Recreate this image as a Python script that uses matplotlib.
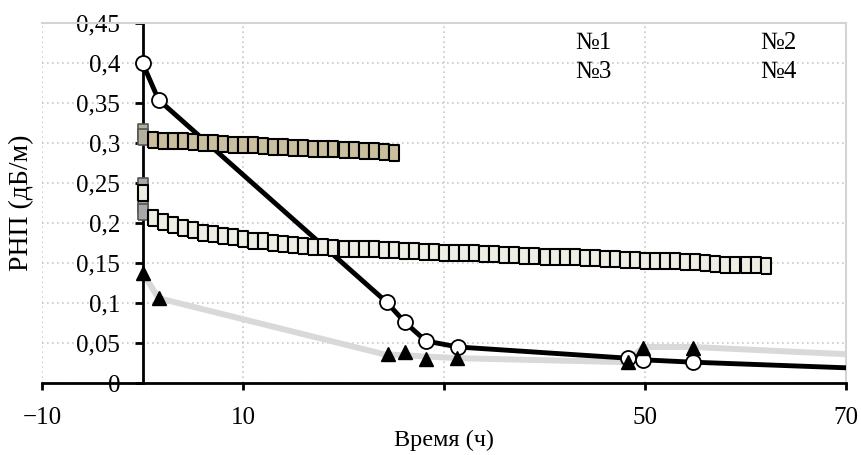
import numpy as np
from matplotlib import pyplot as plt
from matplotlib.ticker import FuncFormatter

plt.rcParams['font.family'] = ['Liberation Serif', 'DejaVu Serif']

# Sample 1: black line with white circles
circ_x = [0, 1.6, 24.3, 26.1, 28.2, 31.4, 48.3, 49.8, 54.8, 70]
circ_y = [0.400, 0.354, 0.101, 0.076, 0.0525, 0.045, 0.031, 0.029, 0.026, 0.019]

# Sample 2: grey line with black triangles
grey_x = [0, 1.6, 24.0, 31.4, 48.3, 49.8, 54.8, 70]
grey_y = [0.138, 0.106, 0.036, 0.031, 0.026, 0.045, 0.045, 0.036]
tri_x = [0, 1.6, 24.4, 26.1, 28.2, 31.3, 48.3, 49.8, 54.8]
tri_y = [0.138, 0.106, 0.036, 0.039, 0.030, 0.031, 0.026, 0.044, 0.044]

# Sample 3: tan squares
tan_x = [1, 2, 3, 4, 5, 6, 7, 8, 9, 10, 11, 12, 13, 14, 15, 16, 17, 18, 19, 20,
         21, 22, 23, 24, 25]
tan_y = [0.304, 0.303, 0.303, 0.302, 0.301, 0.300, 0.300, 0.299, 0.298, 0.297,
         0.297, 0.296, 0.295, 0.295, 0.294, 0.294, 0.293, 0.293, 0.292, 0.291,
         0.291, 0.290, 0.290, 0.289, 0.288]
tan_start_y = [0.314, 0.308]

# Sample 4: light squares
light_x = [1, 2, 3, 4, 5, 6, 7, 8, 9, 10, 11, 12, 13, 14, 15, 16, 17, 18, 19, 20,
           21, 22, 23, 24, 25, 26, 27, 28, 29, 30, 31, 32, 33, 34, 35, 36, 37, 38,
           39, 40, 41, 42, 43, 44, 45, 46, 47, 48, 49, 50, 51, 52, 53, 54, 55, 56,
           57, 58, 59, 60, 61, 62]
light_y = [0.206, 0.201, 0.197, 0.194, 0.191, 0.188, 0.186, 0.184, 0.182, 0.180,
           0.178, 0.177, 0.175, 0.174, 0.172, 0.171, 0.170, 0.170, 0.169, 0.168,
           0.168, 0.167, 0.167, 0.166, 0.166, 0.165, 0.165, 0.164, 0.164, 0.163,
           0.163, 0.162, 0.162, 0.161, 0.161, 0.160, 0.160, 0.159, 0.159, 0.158,
           0.158, 0.157, 0.157, 0.156, 0.156, 0.155, 0.155, 0.154, 0.154, 0.153,
           0.153, 0.152, 0.152, 0.151, 0.151, 0.150, 0.149, 0.148, 0.148, 0.147,
           0.147, 0.146]
light_start_y = [0.246, 0.222, 0.214, 0.238]

x_ticks = [-10, 10, 30, 50, 70]
# "30" is covered by the axis title in the original
x_tick_labels = ["\u221210", "10", "", "50", "70"]
y_ticks = [0, 0.05, 0.1, 0.15, 0.2, 0.25, 0.3, 0.35, 0.4, 0.45]
labels = ["№1", "№2", "№3", "№4"]

# narrow box marker for the squares
rect = [(-0.31, -0.5), (0.31, -0.5), (0.31, 0.5), (-0.31, 0.5), (-0.31, -0.5)]

fig = plt.figure(figsize=(8.61, 4.55), dpi=100)
ax = fig.add_axes([42/861, 1-383/455, 804/861, 360/455])

ax.plot(grey_x, grey_y, color='#d9d9d9', lw=4.3, zorder=2, solid_capstyle='butt')
ax.plot(circ_x, circ_y, color='black', lw=3.5, zorder=3,
        marker='o', markersize=10.8, markerfacecolor='white',
        markeredgecolor='black', markeredgewidth=1.3,
        markevery=list(range(len(circ_x)-1)))

# the stacked points at t=0
ax.plot([0]*len(tan_start_y), tan_start_y, ls='none', marker=rect, markersize=11,
        markerfacecolor='#b5b09e', markeredgecolor='#555555', markeredgewidth=1.2, zorder=4)
ax.plot([0]*len(light_start_y), light_start_y, ls='none', marker=rect, markersize=11,
        markerfacecolor='#a8a8a8', markeredgecolor='#555555', markeredgewidth=1.2, zorder=4)
ax.plot([0], [light_start_y[-1]], ls='none', marker=rect, markersize=11,
        markerfacecolor='#efeee4', markeredgecolor='black', markeredgewidth=1.5, zorder=4)

ax.plot(tan_x, tan_y, ls='none', marker=rect, markersize=11,
        markerfacecolor='#c9bf9e', markeredgecolor='black', markeredgewidth=1.5, zorder=4)
ax.plot(light_x, light_y, ls='none', marker=rect, markersize=11,
        markerfacecolor='#efeee4', markeredgecolor='black', markeredgewidth=1.5, zorder=4)

ax.plot(tri_x, tri_y, ls='none', marker='^', markersize=10,
        markerfacecolor='black', markeredgecolor='black', zorder=5)

ax.set_xlim(-10, 70)
ax.set_ylim(0, 0.45)
ax.set_xticks(x_ticks)
ax.set_xticklabels(x_tick_labels)
ax.set_yticks(y_ticks)
ax.yaxis.set_major_formatter(FuncFormatter(lambda v, p: ("%g" % round(v, 2)).replace('.', ',')))
ax.grid(True, linestyle=(0, (1, 2)), color='#c8c8c8', lw=1.2, zorder=0)
ax.set_axisbelow(True)

ax.spines['left'].set_position(('data', 0))
ax.spines['left'].set_linewidth(2)
ax.spines['bottom'].set_linewidth(2)
ax.spines['top'].set_color('#d4d4d4')
ax.spines['right'].set_color('#d4d4d4')
ax.spines['top'].set_linewidth(1.5)
ax.spines['right'].set_linewidth(1.5)
ax.tick_params(axis='y', direction='out', length=6, width=2, pad=10, labelsize=18)
ax.tick_params(axis='x', direction='out', length=5, width=2, pad=12, labelsize=18)

ax.text(44.9, 0.425, labels[0], fontsize=18, ha='center', va='center')
ax.text(63.3, 0.425, labels[1], fontsize=18, ha='center', va='center')
ax.text(44.9, 0.389, labels[2], fontsize=18, ha='center', va='center')
ax.text(63.3, 0.389, labels[3], fontsize=18, ha='center', va='center')

fig.text(22/861, 1-203/455, "РНП (дБ/м)", rotation=90, fontsize=20, ha='center', va='center')
fig.text(444/861, 1-440/455, "Время (ч)", fontsize=17.5, ha='center', va='center')

fig.savefig("out.png", dpi=100)
